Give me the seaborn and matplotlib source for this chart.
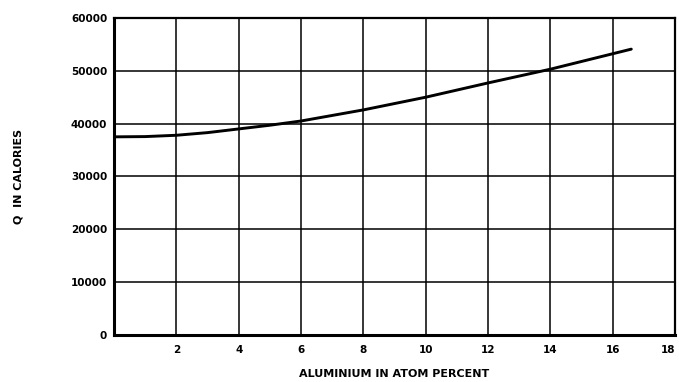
import matplotlib
matplotlib.use('Agg')
import matplotlib.pyplot as plt
import seaborn as sns
import pandas as pd

# values
aluminium = [0, 1, 2, 3, 4, 5, 6, 8, 10, 12, 14, 16.6]
q_cal = [37500, 37550, 37800, 38300, 39000, 39700, 40500, 42600, 45000, 47700, 50300, 54100]
x_ticks = [2, 4, 6, 8, 10, 12, 14, 16, 18]
y_ticks = [0, 10000, 20000, 30000, 40000, 50000, 60000]

df = pd.DataFrame({'al': aluminium, 'q': q_cal})

sns.set_style('white')
plt.rcParams['font.family'] = ['DejaVu Sans']
plt.rcParams['text.color'] = 'black'
plt.rcParams['xtick.color'] = 'black'
plt.rcParams['ytick.color'] = 'black'
plt.rcParams['axes.labelcolor'] = 'black'

fig = plt.figure(figsize=(6.79, 3.82), dpi=100)
ax = fig.add_axes([0.168, 0.123, 0.826, 0.830])

sns.lineplot(data=df, x='al', y='q', ax=ax, color='black', linewidth=2.1)

ax.set_xlim(0, 18)
ax.set_ylim(0, 60000)
ax.set_xticks(x_ticks)
ax.set_yticks(y_ticks)
ax.set_xticklabels([str(t) for t in x_ticks], fontsize=7.5, fontweight='bold')
ax.set_yticklabels([str(t) for t in y_ticks], fontsize=7.5, fontweight='bold')
ax.get_xticklabels()[-1].set_horizontalalignment('right')
ax.tick_params(axis='x', length=0, pad=7)
ax.tick_params(axis='y', length=3, width=1.5, color='black', pad=2)

ax.grid(True, color='black', linewidth=1.1)
for s in ax.spines.values():
    s.set_visible(True)
    s.set_color('black')
    s.set_linewidth(1.6)
ax.spines['left'].set_linewidth(2.2)
ax.spines['bottom'].set_linewidth(2.2)

ax.set_xlabel('ALUMINIUM IN ATOM PERCENT', fontsize=8, fontweight='bold', labelpad=10)
ax.set_ylabel('Q  IN CALORIES', fontsize=8, fontweight='bold', labelpad=34)

fig.savefig('out.png', dpi=100)
